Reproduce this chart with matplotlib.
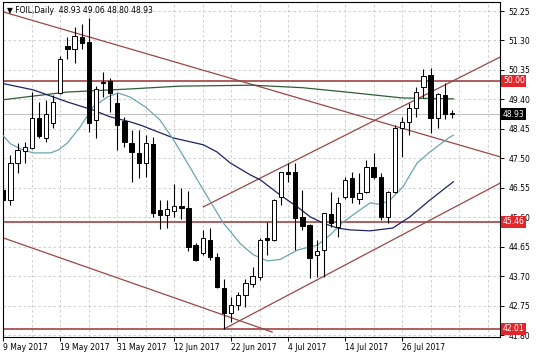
import numpy as np
import pandas as pd
import matplotlib
matplotlib.use('Agg')
import matplotlib.pyplot as plt
import matplotlib.transforms as mtransforms

# Daily bars, 9 May 2017 .. 4 Aug 2017
dates = pd.bdate_range('2017-05-09', '2017-08-04')

opens = [46.48, 46.16, 47.35, 47.74, 47.84, 48.80, 48.16, 48.64, 49.61, 51.12,
         51.03, 51.41, 51.25, 48.74, 49.96, 50.00, 49.29, 48.70, 48.00, 47.68,
         47.35, 47.97, 45.84, 45.68, 45.81, 45.97, 45.90, 44.71, 44.46, 44.87,
         44.33, 43.33, 42.52, 42.78, 43.10, 43.46, 43.68, 44.93, 44.88, 46.26,
         47.05, 47.06, 45.62, 45.36, 44.39, 44.55, 45.71, 45.29, 46.26, 46.87,
         46.19, 46.42, 47.23, 46.90, 45.62, 46.42, 48.48, 48.68, 49.13, 49.80,
         50.19, 48.80, 49.55, 48.93]
highs = [46.74, 47.61, 48.00, 48.03, 49.64, 49.32, 49.38, 49.55, 50.80, 51.41,
         51.73, 51.83, 52.02, 49.83, 50.28, 50.09, 49.61, 48.84, 48.42, 48.42,
         48.26, 48.19, 46.16, 46.16, 46.68, 46.55, 46.45, 44.77, 45.20, 45.26,
         44.46, 43.62, 43.04, 43.20, 43.62, 44.00, 44.95, 45.45, 46.20, 47.06,
         47.35, 47.35, 46.48, 45.40, 44.87, 45.74, 46.42, 46.26, 46.90, 47.06,
         47.03, 47.45, 47.68, 47.03, 46.45, 48.58, 48.84, 49.29, 49.80, 50.38,
         50.43, 49.60, 49.92, 49.06]
lows = [46.10, 46.00, 47.03, 47.35, 47.80, 48.16, 48.03, 48.48, 49.58, 50.70,
        50.57, 51.03, 48.35, 48.16, 49.48, 49.00, 47.77, 47.87, 46.74, 46.87,
        46.90, 45.62, 45.23, 45.26, 45.62, 45.55, 44.52, 44.20, 44.39, 44.23,
        43.33, 42.01, 42.23, 42.62, 42.72, 43.36, 43.60, 44.39, 44.85, 46.00,
        46.74, 44.55, 45.20, 43.65, 43.68, 43.68, 45.29, 44.97, 46.20, 46.07,
        46.03, 46.40, 46.85, 45.52, 45.42, 46.40, 47.55, 48.26, 48.84, 49.45,
        48.33, 48.48, 48.77, 48.80]
closes = [46.16, 47.35, 47.77, 47.87, 48.80, 48.22, 48.93, 49.32, 50.70, 51.03,
          51.44, 51.22, 48.64, 49.74, 49.93, 49.61, 48.58, 48.03, 47.71, 47.35,
          48.00, 45.74, 45.68, 45.87, 45.97, 45.90, 44.65, 44.23, 44.94, 44.33,
          43.36, 42.52, 42.78, 43.10, 43.49, 43.72, 44.87, 44.88, 46.16, 47.06,
          47.01, 45.58, 45.33, 44.30, 44.52, 45.74, 45.42, 46.07, 46.81, 46.25,
          46.40, 47.23, 46.90, 45.62, 46.42, 48.48, 48.68, 49.13, 49.64, 50.16,
          48.79, 49.58, 48.92, 48.93]

# moving averages (bar position, price)
ma_fast_bar = [-0.4, 1.0, 2.5, 4.2, 6.6, 7.7, 9.0, 10.8, 12.6, 14.6, 16.1, 17.8,
               20.0, 22.0, 23.9, 26.0, 28.1, 30.9, 33.3, 35.1, 37.1, 38.9, 41.3,
               44.1, 45.9, 47.7, 49.7, 51.5, 52.9, 54.3, 56.1, 58.1, 59.9, 62.7, 63.2]
ma_fast = [48.33, 47.97, 47.80, 47.68, 47.68, 47.77, 48.00, 48.52, 49.16, 49.48,
           49.61, 49.48, 49.15, 48.74, 48.10, 47.30, 46.48, 45.42, 44.75, 44.40,
           44.20, 44.25, 44.55, 44.71, 45.04, 45.45, 45.78, 46.07, 46.02, 46.16,
           46.58, 47.35, 47.71, 48.19, 48.25]
ma_mid_bar = [-0.4, 4.2, 9.0, 12.6, 15.0, 17.8, 19.2, 23.9, 28.1, 30.0, 31.9, 34.7,
              36.1, 38.9, 41.3, 43.1, 44.9, 46.9, 48.7, 51.5, 54.7, 57.1, 59.9, 63.2]
ma_mid = [49.93, 49.71, 49.32, 49.06, 48.84, 48.68, 48.58, 48.16, 47.94, 47.71,
          47.35, 46.97, 46.81, 46.32, 45.94, 45.62, 45.42, 45.26, 45.20, 45.17,
          45.26, 45.62, 46.16, 46.75]
ma_slow_bar = [-0.4, 4.2, 9.0, 17.8, 24.8, 35.0, 42.0, 49.0, 56.0, 63.2]
ma_slow = [49.38, 49.51, 49.64, 49.74, 49.83, 49.86, 49.78, 49.62, 49.45, 49.42]

# trend lines: (bar, price) start and end
trend_lines = [
    ((0.0, 52.22), (69.8, 47.55)),
    ((0.0, 44.94), (37.75, 41.91)),
    ((31.0, 42.01), (69.8, 46.71)),
    ((28.07, 45.94), (69.8, 50.77)),
]
levels = [50.00, 45.46, 42.01]
last_price = 48.93
price_ticks = [41.80, 42.75, 43.70, 44.65, 45.60, 46.55, 47.50, 48.45, 49.40, 50.35, 51.30, 52.25]

plt.rcParams['font.family'] = 'DejaVu Sans'
fig = plt.figure(figsize=(5.36, 3.57), dpi=100)
ax = fig.add_axes([3 / 536, 20 / 357, 497 / 536, 335 / 357])
ax.set_xlim(-0.05, 69.75)
ax.set_ylim(41.75, 52.54)

# grid
for b in range(0, 70, 4):
    ax.axvline(b, color='#c8c8c8', lw=0.6, ls=(0, (3, 3)), zorder=0)
for p in price_ticks:
    ax.axhline(p, color='#c8c8c8', lw=0.6, ls=(0, (3, 3)), zorder=0)

# bid line
ax.axhline(last_price, color='#c0c0c0', lw=0.7, zorder=1)

# levels and trend lines
for lv in levels:
    ax.axhline(lv, color='#a85252', lw=1.3, zorder=2)
for (x0, y0), (x1, y1) in trend_lines:
    ax.plot([x0, x1], [y0, y1], color='#9a4646', lw=0.9, zorder=2)

# moving averages
ax.plot(ma_slow_bar, ma_slow, color='#2f5d3a', lw=0.9, zorder=3)
ax.plot(ma_mid_bar, ma_mid, color='#1c2466', lw=0.9, zorder=3)
ax.plot(ma_fast_bar, ma_fast, color='#6aa6ae', lw=0.9, zorder=3)

# candles
x = np.arange(len(opens))
o = np.array(opens)
c = np.array(closes)
ax.vlines(x, lows, highs, color='black', lw=0.8, zorder=4)
body_lo = np.minimum(o, c)
body_h = np.maximum(np.abs(c - o), 0.02)
up = c >= o
ax.bar(x[up], body_h[up], bottom=body_lo[up], width=0.6, color='white',
       edgecolor='black', linewidth=0.7, zorder=5)
ax.bar(x[~up], body_h[~up], bottom=body_lo[~up], width=0.6, color='black',
       edgecolor='black', linewidth=0.7, zorder=5)

# axes styling
for s in ax.spines.values():
    s.set_linewidth(0.8)
    s.set_color('black')
ax.yaxis.tick_right()
ax.set_yticks(price_ticks)
ax.set_yticklabels(['%.2f' % p for p in price_ticks])
label_bars = list(range(0, len(dates), 8))
ax.set_xticks(label_bars)
ax.set_xticklabels(['%d %s' % (dates[i].day, dates[i].strftime('%b %Y')) for i in label_bars],
                   ha='left')
ax.tick_params(axis='both', labelsize=5.5, length=3, width=0.7, direction='out', pad=1.5)
ax.tick_params(axis='y', pad=3)

trans = mtransforms.blended_transform_factory(ax.transAxes, ax.transData)
for lv in levels:
    ax.text(1.006, lv, '%.2f' % lv, transform=trans, fontsize=5.5, color='white',
            va='center', ha='left', clip_on=False, zorder=10,
            bbox=dict(boxstyle='square,pad=0.2', fc='#e3262b', ec='none'))
ax.text(1.006, last_price, '%.2f' % last_price, transform=trans, fontsize=5.5, color='white',
        va='center', ha='left', clip_on=False, zorder=10,
        bbox=dict(boxstyle='square,pad=0.2', fc='black', ec='none'))

ax.text(0.008, 0.988, '\u25bc FOIL,Daily  %.2f %.2f %.2f %.2f' % (opens[-1], highs[-1], lows[-1], closes[-1]),
        transform=ax.transAxes, fontsize=5.5, va='top', ha='left', zorder=10)

fig.savefig('out.png', dpi=100)
